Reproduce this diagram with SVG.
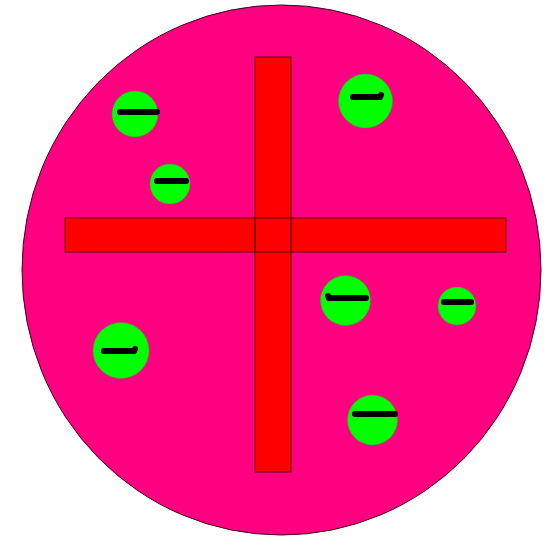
<svg xmlns="http://www.w3.org/2000/svg" width="554" height="536" viewBox="0 0 554 536">
<style>
.bar{fill:#ff0000;stroke:#5a0000;stroke-width:1}
.ion{fill:#00ff00;stroke:#33aa33;stroke-width:0.5}
.dash{stroke:#000;stroke-width:6;stroke-linecap:round}
</style>
<rect width="554" height="536" fill="#ffffff"/>
<g id="cell">
<ellipse cx="281.5" cy="270" rx="259.5" ry="265" fill="#ff0080" stroke="#40001a" stroke-width="1"/>
</g>
<g id="cross">
<rect class="bar" x="65" y="218" width="441" height="34"/>
<rect class="bar" x="255" y="57" width="36" height="415"/>
<rect x="255" y="218" width="36" height="34" fill="none" stroke="#5a0000" stroke-width="1"/>
</g>
<g id="ion1"><circle class="ion" cx="135" cy="114" r="23"/><line class="dash" x1="120" y1="112" x2="157" y2="112"/></g>
<g id="ion2"><circle class="ion" cx="170" cy="184" r="20"/><line class="dash" x1="157" y1="181" x2="186" y2="181"/></g>
<g id="ion3"><circle class="ion" cx="365.5" cy="101" r="27"/><line class="dash" x1="353" y1="97" x2="380" y2="97"/><line class="dash" x1="380" y1="97" x2="381" y2="95"/></g>
<g id="ion4"><circle class="ion" cx="345.5" cy="300.5" r="25"/><line class="dash" x1="329" y1="298" x2="366" y2="298"/><line class="dash" x1="328" y1="296" x2="329" y2="298"/></g>
<g id="ion5"><circle class="ion" cx="457" cy="306" r="19"/><line class="dash" x1="444" y1="302" x2="471" y2="302"/></g>
<g id="ion6"><circle class="ion" cx="121" cy="350.5" r="28"/><line class="dash" x1="104" y1="351" x2="134" y2="351"/><line class="dash" x1="134" y1="351" x2="135" y2="349"/></g>
<g id="ion7"><circle class="ion" cx="372.5" cy="420" r="25"/><line class="dash" x1="355" y1="414" x2="395" y2="414"/></g>
</svg>
